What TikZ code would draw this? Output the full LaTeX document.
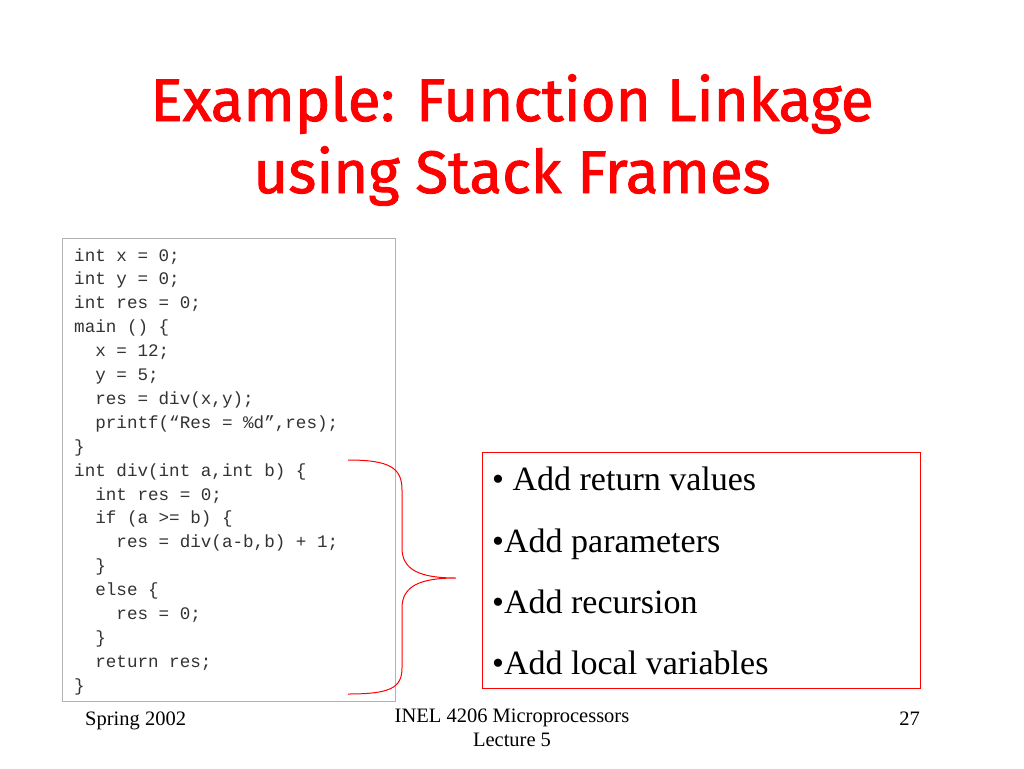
\documentclass[tikz,border=0pt]{standalone}
\usepackage{fontspec}
\setmainfont{Liberation Serif}
\setmonofont{Liberation Mono}
\newfontfamily\titlefont[FakeBold=1.5]{Fira Sans}
\begin{document}
\begin{tikzpicture}[x=1pt,y=-1pt,
  code/.style={anchor=base west,inner sep=0,font=\ttfamily\fontsize{17.6}{17}\selectfont,text=black!80},
  bul/.style={anchor=base west,inner sep=0,font=\fontsize{34}{34}\selectfont},
  foot/.style={inner sep=0,font=\fontsize{20.5}{24}\selectfont}]
\useasboundingbox (0,0) rectangle (1024,768);
\fill[white] (0,0) rectangle (1024,768);
\node[inner sep=0,text=red,align=center,font=\titlefont\fontsize{60}{72}\selectfont] (title) at (512,140) {Example: Function Linkage\\using Stack Frames};
\draw[gray!60,line width=1pt] (62,238) rectangle (395,701);
\foreach \t [count=\i from 0] in {
 {int x = 0;},{int y = 0;},{int res = 0;},{main () \{},
 {\ \ x = 12;},{\ \ y = 5;},{\ \ res = div(x,y);},{\ \ printf(“Res = \%d”,res);},
 {\}},{int div(int a,int b) \{},{\ \ int res = 0;},{\ \ if (a >= b) \{},
 {\ \ \ \ res = div(a-b,b) + 1;},{\ \ \}},{\ \ else \{},{\ \ \ \ res = 0;},
 {\ \ \}},{\ \ return res;},{\}}}
 \node[code] (c\i) at (74,{261+\i*23.9}) {\t};
\draw[red,line width=1pt] (482,452) rectangle (920,688);
\node[bul] (b1) at (492,490) {\textbullet{} Add return values};
\node[bul] (b2) at (492,552) {\textbullet Add parameters};
\node[bul] (b3) at (492,613) {\textbullet Add recursion};
\node[bul] (b4) at (492,674) {\textbullet Add local variables};
\coordinate (tip) at (456,578);
\draw[red,line width=1pt] (348,460) .. controls (390,460) and (402,468) .. (402,490)
  -- (402,548) .. controls (402,570) and (420,578) .. (tip)
  .. controls (420,578) and (402,586) .. (402,608)
  -- (402,668) .. controls (402,688) and (390,694) .. (348,694);
\node[foot,anchor=base west] (f1) at (85,725) {Spring 2002};
\node[foot,align=center,anchor=north] (f2) at (512,709) {INEL 4206 Microprocessors\\Lecture 5};
\node[foot,anchor=base east] (f3) at (920,725) {27};
\end{tikzpicture}
\end{document}
